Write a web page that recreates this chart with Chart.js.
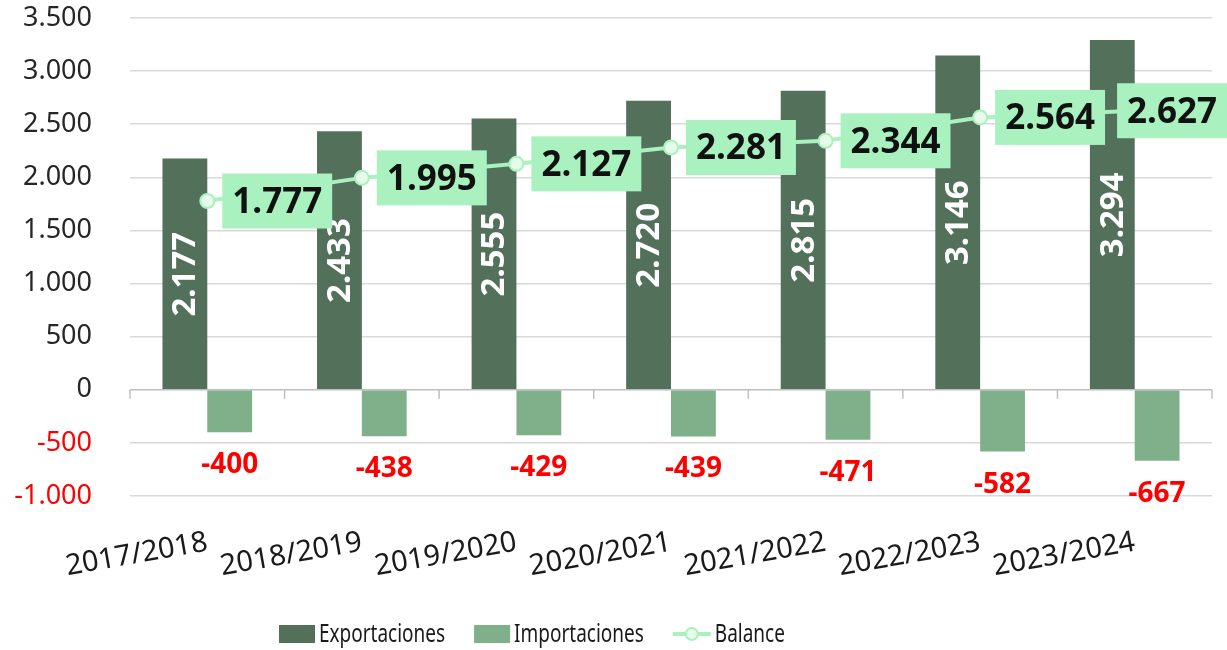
<!DOCTYPE html>
<html>
<head>
<meta charset="utf-8">
<script src="https://cdn.jsdelivr.net/npm/chart.js@4.4.1/dist/chart.umd.min.js"></script>
<style>
	html, body { margin: 0; padding: 0; background: #fff; }
	#wrap { width: 1227px; height: 650px; }
</style>
</head>
<body>
<div id="wrap"><canvas id="chart"></canvas></div>
<script>
// Data
const campanas = ['2017/2018', '2018/2019', '2019/2020', '2020/2021', '2021/2022', '2022/2023', '2023/2024'];
const exportaciones = [2177, 2433, 2555, 2720, 2815, 3146, 3294];
const importaciones = [-400, -438, -429, -439, -471, -582, -667];
const balance = [1777, 1995, 2127, 2281, 2344, 2564, 2627];
const yMin = -1000;
const yMax = 3500;
const yStep = 500;

const colorExp = '#52705a';
const colorImp = '#7fb08a';
const colorBal = '#a9f1bf';
const fontNum = '"Noto Sans", "Open Sans", sans-serif';
const fontText = '"Noto Sans", sans-serif';

// 1234 -> "1.234"
function fmt(n) {
	const s = String(Math.abs(n)).replace(/\B(?=(\d{3})+(?!\d))/g, '.');
	return (n < 0 ? '-' : '') + s;
}

// Small tick marks on the zero line, between categories
const zeroTicks = {
	id: 'zeroTicks',
	beforeDatasetsDraw(chart) {
		const ctx = chart.ctx;
		const x = chart.scales.x;
		const y0 = chart.scales.y.getPixelForValue(0);
		const n = campanas.length;
		ctx.save();
		ctx.strokeStyle = '#bfbfbf';
		ctx.lineWidth = 1.5;
		for (let i = 0; i <= n; i++) {
			let px;
			if (i === 0) px = chart.chartArea.left;
			else if (i === n) px = chart.chartArea.right;
			else px = (x.getPixelForTick(i - 1) + x.getPixelForTick(i)) / 2;
			ctx.beginPath();
			ctx.moveTo(px, y0);
			ctx.lineTo(px, y0 + 9);
			ctx.stroke();
		}
		ctx.restore();
	}
};

// Data labels
const etiquetas = {
	id: 'etiquetas',
	afterDatasetsDraw(chart) {
		const ctx = chart.ctx;
		const y0 = chart.scales.y.getPixelForValue(0);

		// Exportaciones: rotated, white, centered in bar
		chart.getDatasetMeta(0).data.forEach((bar, i) => {
			ctx.save();
			ctx.translate(bar.x, (bar.y + y0) / 2);
			ctx.rotate(-Math.PI / 2);
			ctx.font = 'bold 33px ' + fontNum;
			ctx.fillStyle = '#ffffff';
			ctx.textAlign = 'center';
			ctx.textBaseline = 'middle';
			ctx.fillText(fmt(exportaciones[i]), 0, 1);
			ctx.restore();
		});

		// Importaciones: red, under the bar
		chart.getDatasetMeta(1).data.forEach((bar, i) => {
			ctx.save();
			ctx.font = 'bold 28px ' + fontNum;
			ctx.fillStyle = '#ff0000';
			ctx.textAlign = 'center';
			ctx.textBaseline = 'middle';
			ctx.fillText(fmt(importaciones[i]), bar.x, bar.y + 33);
			ctx.restore();
		});

		// Balance: black on green box, right of the point
		chart.getDatasetMeta(2).data.forEach((pt, i) => {
			ctx.save();
			ctx.font = 'bold 35px ' + fontNum;
			const txt = fmt(balance[i]);
			const w = ctx.measureText(txt).width + 20;
			const h = 55;
			let left = pt.x + 15;
			if (left + w > chart.width) left = chart.width - w;
			ctx.fillStyle = colorBal;
			ctx.fillRect(left, pt.y - h / 2, w, h);
			ctx.fillStyle = '#111111';
			ctx.textAlign = 'center';
			ctx.textBaseline = 'middle';
			ctx.fillText(txt, left + w / 2, pt.y + 2);
			ctx.restore();
		});
	}
};

// Legend drawn by hand so it can sit left of centre like the original
const leyenda = {
	id: 'leyenda',
	afterDraw(chart) {
		const ctx = chart.ctx;
		const yc = 634;
		const squeeze = 0.73; // the original uses a narrow font
		let x = 279;
		ctx.save();
		ctx.font = '26px ' + fontText;
		ctx.textBaseline = 'middle';

		const items = [
			{ label: 'Exportaciones', kind: 'bar', color: colorExp },
			{ label: 'Importaciones', kind: 'bar', color: colorImp },
			{ label: 'Balance', kind: 'line', color: colorBal }
		];
		items.forEach(it => {
			if (it.kind === 'bar') {
				ctx.fillStyle = it.color;
				ctx.fillRect(x, yc - 9, 36, 18);
			} else {
				ctx.strokeStyle = it.color;
				ctx.lineWidth = 4;
				ctx.beginPath();
				ctx.moveTo(x, yc);
				ctx.lineTo(x + 38, yc);
				ctx.stroke();
				ctx.beginPath();
				ctx.arc(x + 19, yc, 6, 0, Math.PI * 2);
				ctx.fillStyle = '#e6fbe9';
				ctx.fill();
				ctx.lineWidth = 2;
				ctx.stroke();
			}
			x += (it.kind === 'bar' ? 36 : 38) + 4;
			ctx.save();
			ctx.translate(x, yc + 1);
			ctx.scale(squeeze, 1);
			ctx.fillStyle = '#1a1a1a';
			ctx.fillText(it.label, 0, 0);
			ctx.restore();
			x += ctx.measureText(it.label).width * squeeze + 29;
		});
		ctx.restore();
	}
};

const ctx = document.getElementById('chart').getContext('2d');

const chart = new Chart(ctx, {
	type: 'bar',
	data: {
		labels: campanas,
		datasets: [
			{
				label: 'Exportaciones',
				data: exportaciones,
				backgroundColor: colorExp,
				categoryPercentage: 0.58,
				barPercentage: 1.0,
				order: 2
			},
			{
				label: 'Importaciones',
				data: importaciones,
				backgroundColor: colorImp,
				categoryPercentage: 0.58,
				barPercentage: 1.0,
				order: 2
			},
			{
				type: 'line',
				label: 'Balance',
				data: balance,
				borderColor: colorBal,
				backgroundColor: '#e6fbe9',
				borderWidth: 4,
				pointRadius: 7,
				pointBorderWidth: 2,
				pointBorderColor: colorBal,
				pointBackgroundColor: '#e6fbe9',
				tension: 0,
				order: 0
			}
		]
	},
	options: {
		responsive: true,
		maintainAspectRatio: false,
		animation: false,
		layout: {
			padding: { left: 12, right: 15, top: 18, bottom: 0 }
		},
		scales: {
			y: {
				min: yMin,
				max: yMax,
				border: { display: false },
				grid: {
					drawTicks: false,
					lineWidth: 1.5,
					color: c => (c.tick && c.tick.value === 0) ? '#bfbfbf' : '#d9d9d9'
				},
				ticks: {
					stepSize: yStep,
					padding: 38,
					font: { family: fontNum, size: 27 },
					color: c => c.tick.value < 0 ? '#ff0000' : '#262626',
					callback: v => fmt(v)
				},
				afterFit(scale) {
					scale.width = 118;
					scale.paddingTop = 0;
					scale.paddingBottom = 0;
				}
			},
			x: {
				border: { display: false },
				grid: { display: false },
				ticks: {
					autoSkip: false,
					minRotation: 10,
					maxRotation: 10,
					padding: 21,
					font: { family: fontNum, size: 29 },
					color: '#1a1a1a'
				},
				afterFit(scale) {
					scale.height = 154;
					scale.paddingLeft = 0;
					scale.paddingRight = 0;
				}
			}
		},
		plugins: {
			legend: { display: false },
			tooltip: { enabled: false }
		}
	},
	plugins: [zeroTicks, etiquetas, leyenda]
});
</script>
</body>
</html>
